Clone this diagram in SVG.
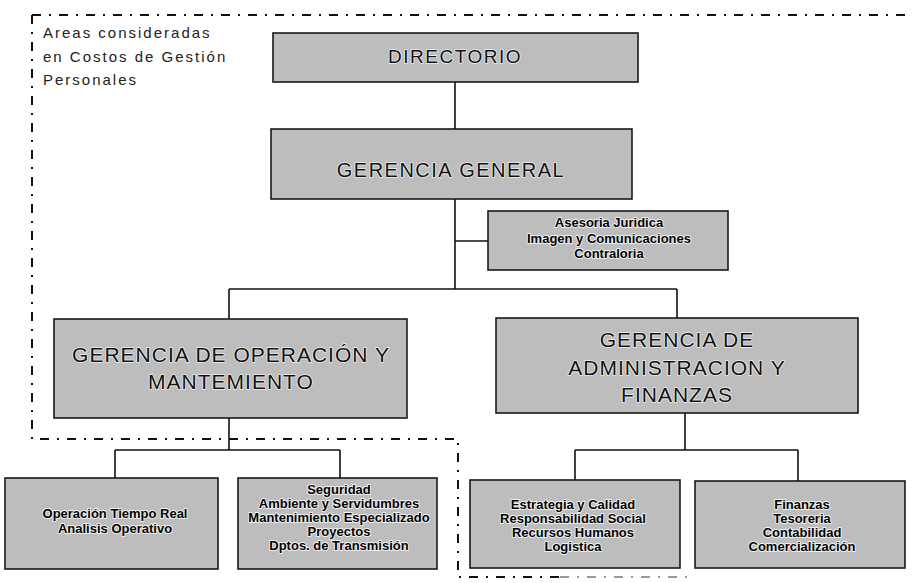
<svg xmlns="http://www.w3.org/2000/svg" width="912" height="583" viewBox="0 0 912 583">
<style>
.box{fill:#bdbdbd;stroke:#1a1a1a;stroke-width:1.6}
.conn{stroke:#111;stroke-width:1.6;fill:none}
.area{stroke:#111;stroke-width:2;fill:none;stroke-dasharray:9 8 2 8}
.big{font-family:"Liberation Sans",Arial,sans-serif;fill:#111;text-anchor:middle;stroke:#eeeeee;stroke-width:1.6;paint-order:stroke;stroke-linejoin:round}
.small{font-family:"Liberation Sans",Arial,sans-serif;font-weight:bold;font-size:13px;fill:#000;text-anchor:middle;stroke:#f2f2f2;stroke-width:1.8;paint-order:stroke;stroke-linejoin:round}
.label{font-family:"Liberation Sans",Arial,sans-serif;font-size:15px;fill:#222;letter-spacing:2px}
</style>
<rect width="912" height="583" fill="#ffffff"/>

<g id="area-boundary">
<path class="area" d="M32,15 H912 M32,15 V439 H458 V577 H560"/>
<path d="M560,577 H690" stroke="#999" stroke-width="2" fill="none" stroke-dasharray="9 8 2 8"/>
<text class="label" x="43" y="38">Areas consideradas</text>
<text class="label" x="43" y="62">en Costos de Gestión</text>
<text class="label" x="43" y="85">Personales</text>
</g>

<g id="connectors">
<path class="conn" d="M455,82 V289"/>
<path class="conn" d="M455,241 H488"/>
<path class="conn" d="M229,289 H677"/>
<path class="conn" d="M229,289 V319"/>
<path class="conn" d="M677,289 V318"/>
<path class="conn" d="M229,418 V450 M115,450 H340 M115,450 V478 M340,450 V478"/>
<path class="conn" d="M685,413 V450 M575,450 H798 M575,450 V480 M798,450 V481"/>
</g>

<g id="directorio">
<rect class="box" x="273" y="33" width="365" height="49"/>
<text class="big" x="455" y="63" font-size="19" letter-spacing="1.5">DIRECTORIO</text>
</g>

<g id="gerencia-general">
<rect class="box" x="271" y="129" width="361" height="70"/>
<text class="big" x="451" y="177" font-size="20" letter-spacing="1.5">GERENCIA  GENERAL</text>
</g>

<g id="asesoria">
<rect class="box" x="488" y="211" width="240" height="59"/>
<text class="small" x="609" y="227">Asesoria Juridica</text>
<text class="small" x="609" y="242.5">Imagen y Comunicaciones</text>
<text class="small" x="609" y="258">Contraloria</text>
</g>

<g id="gerencia-operacion">
<rect class="box" x="54" y="319" width="353" height="99"/>
<text class="big" x="231" y="362" font-size="21" letter-spacing="1">GERENCIA DE OPERACIÓN Y</text>
<text class="big" x="231" y="389" font-size="21" letter-spacing="1">MANTEMIENTO</text>
</g>

<g id="gerencia-administracion">
<rect class="box" x="496" y="318" width="362" height="95"/>
<text class="big" x="677" y="347" font-size="21" letter-spacing="1">GERENCIA DE</text>
<text class="big" x="677" y="375" font-size="21" letter-spacing="1">ADMINISTRACION Y</text>
<text class="big" x="677" y="402" font-size="21" letter-spacing="1">FINANZAS</text>
</g>

<g id="operacion-tiempo-real">
<rect class="box" x="5" y="478" width="213" height="91"/>
<text class="small" x="115" y="518">Operación Tiempo Real</text>
<text class="small" x="115" y="532.5">Analisis Operativo</text>
</g>

<g id="seguridad">
<rect class="box" x="238" y="478" width="199" height="91"/>
<text class="small" x="339" y="494">Seguridad</text>
<text class="small" x="339" y="508">Ambiente y Servidumbres</text>
<text class="small" x="339" y="522">Mantenimiento Especializado</text>
<text class="small" x="339" y="536">Proyectos</text>
<text class="small" x="339" y="550">Dptos. de Transmisión</text>
</g>

<g id="estrategia">
<rect class="box" x="470" y="480" width="210" height="88"/>
<text class="small" x="573" y="509">Estrategia y Calidad</text>
<text class="small" x="573" y="523">Responsabilidad Social</text>
<text class="small" x="573" y="537">Recursos Humanos</text>
<text class="small" x="573" y="551">Logistica</text>
</g>

<g id="finanzas">
<rect class="box" x="695" y="481" width="210" height="87"/>
<text class="small" x="802" y="509">Finanzas</text>
<text class="small" x="802" y="523">Tesoreria</text>
<text class="small" x="802" y="537">Contabilidad</text>
<text class="small" x="802" y="551">Comercialización</text>
</g>
</svg>
